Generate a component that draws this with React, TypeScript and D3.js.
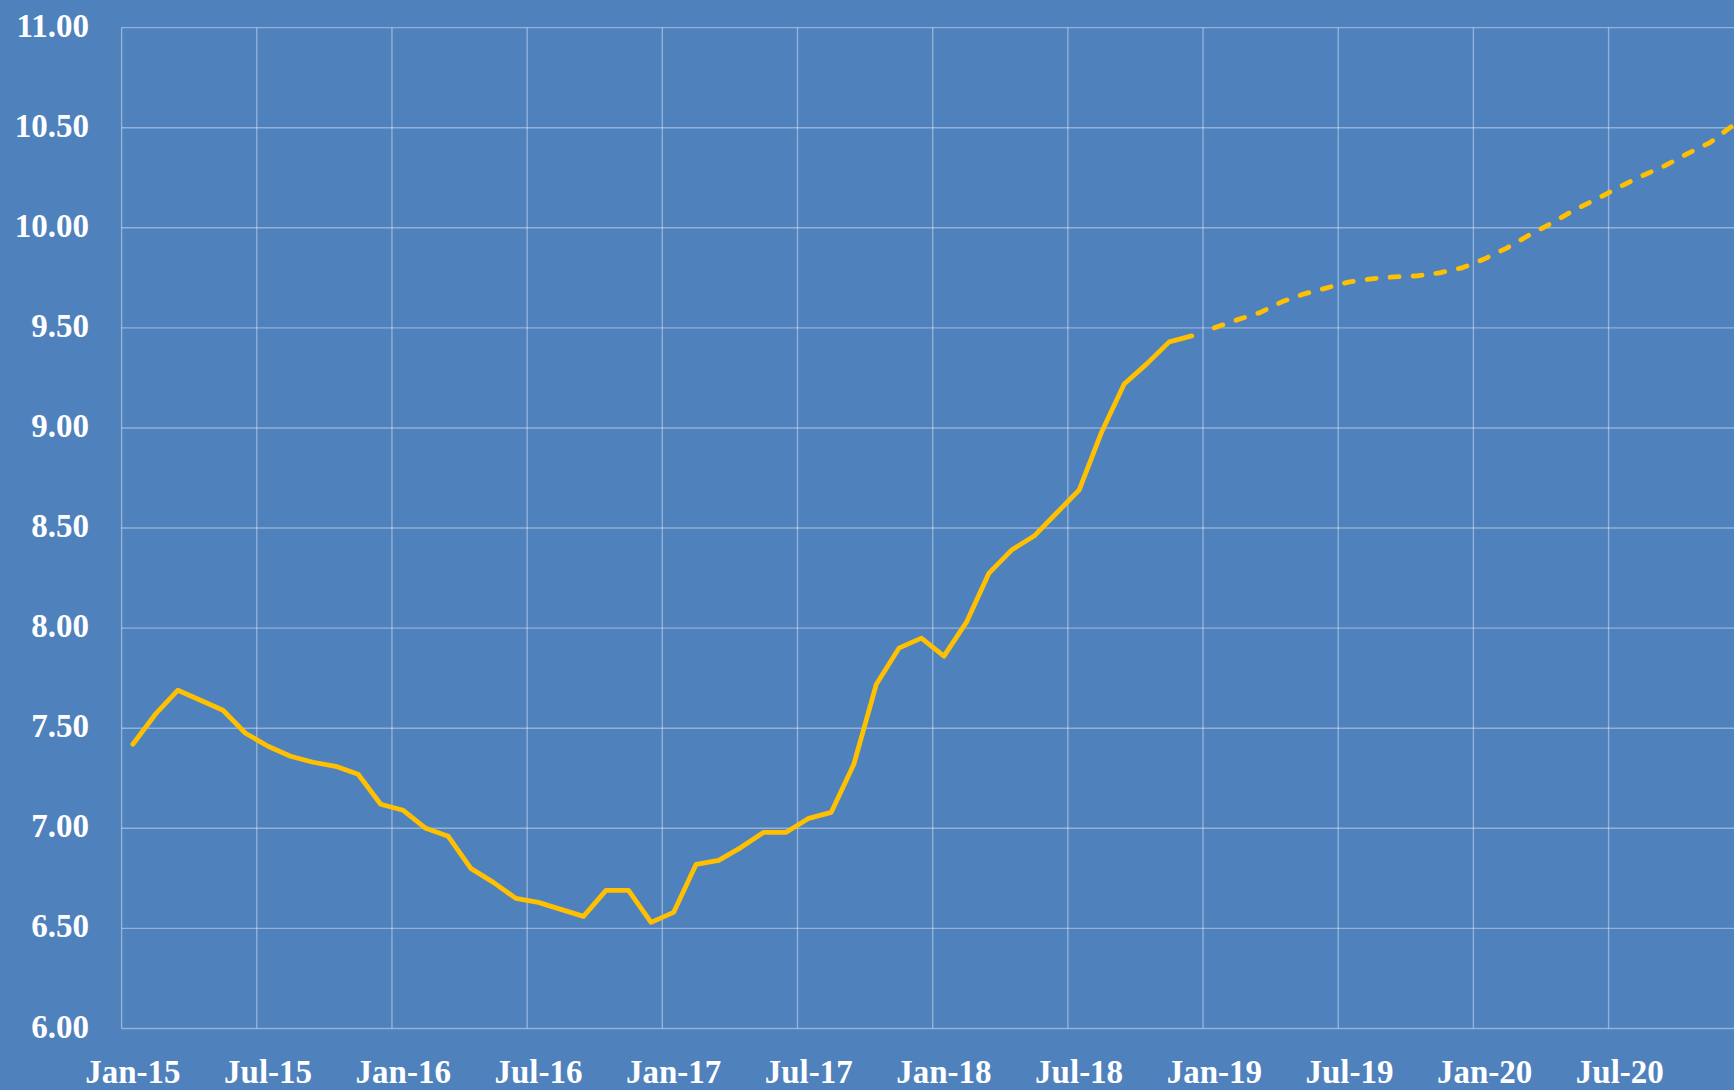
import { useEffect, useRef } from 'react'
import * as d3 from 'd3'

const fmt = d3.timeFormat('%b-%y')
const months = d3.timeMonth.range(new Date(2015, 0, 1), new Date(2021, 0, 1)).map(fmt)

// Jan-15 .. Dec-18
const actualValues = [
  7.42, 7.57, 7.69, 7.64, 7.59, 7.475, 7.41, 7.36, 7.33, 7.31, 7.27, 7.12,
  7.09, 7.0, 6.96, 6.8, 6.73, 6.65, 6.63, 6.595, 6.56, 6.69, 6.69, 6.53,
  6.58, 6.82, 6.84, 6.905, 6.98, 6.98, 7.05, 7.08, 7.32, 7.72, 7.9, 7.95,
  7.86, 8.03, 8.275, 8.39, 8.46, 8.575, 8.69, 8.98, 9.22, 9.32, 9.43, 9.46
]

// Jan-19 .. Dec-20
const forecastValues = [
  9.5, 9.54, 9.575, 9.63, 9.67, 9.7, 9.73, 9.745, 9.755, 9.76, 9.775, 9.8,
  9.845, 9.9, 9.965, 10.025, 10.09, 10.145, 10.205, 10.26, 10.31, 10.37, 10.425, 10.51
]

const yTicks = [6, 6.5, 7, 7.5, 8, 8.5, 9, 9.5, 10, 10.5, 11]
const xTickLabels = [
  'Jan-15', 'Jul-15', 'Jan-16', 'Jul-16', 'Jan-17', 'Jul-17',
  'Jan-18', 'Jul-18', 'Jan-19', 'Jul-19', 'Jan-20', 'Jul-20'
]

export default function App() {
  const svgRef = useRef(null)

  useEffect(() => {
    if (!svgRef.current) return
    const width = 1734
    const height = 1090
    const left = 121.6
    const top = 27.6
    const bottom = 1028.5
    const monthW = 22.53
    const font = '"Liberation Serif", "DejaVu Serif", serif'

    const svg = d3.select(svgRef.current)
    svg.selectAll('*').remove()

    svg.append('rect')
      .attr('width', width)
      .attr('height', height)
      .attr('fill', '#4F81BD')

    const x = d3.scaleBand()
      .domain(months)
      .range([left, left + months.length * monthW])
      .padding(0)
    const y = d3.scaleLinear().domain([6, 11]).range([bottom, top])
    const cx = (m) => x(m) + x.bandwidth() / 2

    // gridlines
    svg.append('g')
      .selectAll('line')
      .data(yTicks)
      .enter()
      .append('line')
      .attr('x1', left)
      .attr('x2', x.range()[1])
      .attr('y1', d => y(d))
      .attr('y2', d => y(d))
      .attr('stroke', 'rgba(255,255,255,0.38)')
      .attr('stroke-width', 1.4)

    svg.append('g')
      .selectAll('line')
      .data(xTickLabels)
      .enter()
      .append('line')
      .attr('x1', d => x(d))
      .attr('x2', d => x(d))
      .attr('y1', top)
      .attr('y2', bottom)
      .attr('stroke', 'rgba(255,255,255,0.38)')
      .attr('stroke-width', 1.4)

    // y labels
    svg.append('g')
      .selectAll('text')
      .data(yTicks)
      .enter()
      .append('text')
      .attr('x', 89)
      .attr('y', d => y(d) + 9)
      .attr('text-anchor', 'end')
      .text(d => d.toFixed(2))
      .style('fill', 'white')
      .style('font-family', font)
      .style('font-weight', 'bold')
      .style('font-size', '33px')

    // x labels
    svg.append('g')
      .selectAll('text')
      .data(xTickLabels)
      .enter()
      .append('text')
      .attr('x', d => cx(d))
      .attr('y', 1083)
      .attr('text-anchor', 'middle')
      .text(d => d)
      .style('fill', 'white')
      .style('font-family', font)
      .style('font-weight', 'bold')
      .style('font-size', '33px')

    const line = d3.line()
      .x(d => cx(d.m))
      .y(d => y(d.v))

    const actual = actualValues.map((v, i) => ({ m: months[i], v }))
    const forecast = forecastValues.map((v, i) => ({ m: months[actualValues.length + i], v }))

    svg.append('path')
      .attr('d', line(actual))
      .attr('fill', 'none')
      .attr('stroke', '#FFC000')
      .attr('stroke-width', 4.8)
      .attr('stroke-linejoin', 'round')
      .attr('stroke-linecap', 'round')

    svg.append('path')
      .attr('d', line(forecast))
      .attr('fill', 'none')
      .attr('stroke', '#FFC000')
      .attr('stroke-width', 4.8)
      .attr('stroke-linejoin', 'round')
      .attr('stroke-linecap', 'round')
      .attr('stroke-dasharray', '9,14')
  }, [])

  return (
    <div style={{ position: 'absolute', left: 0, top: 0 }}>
      <svg ref={svgRef} width={1734} height={1090} style={{ display: 'block' }} />
    </div>
  )
}
